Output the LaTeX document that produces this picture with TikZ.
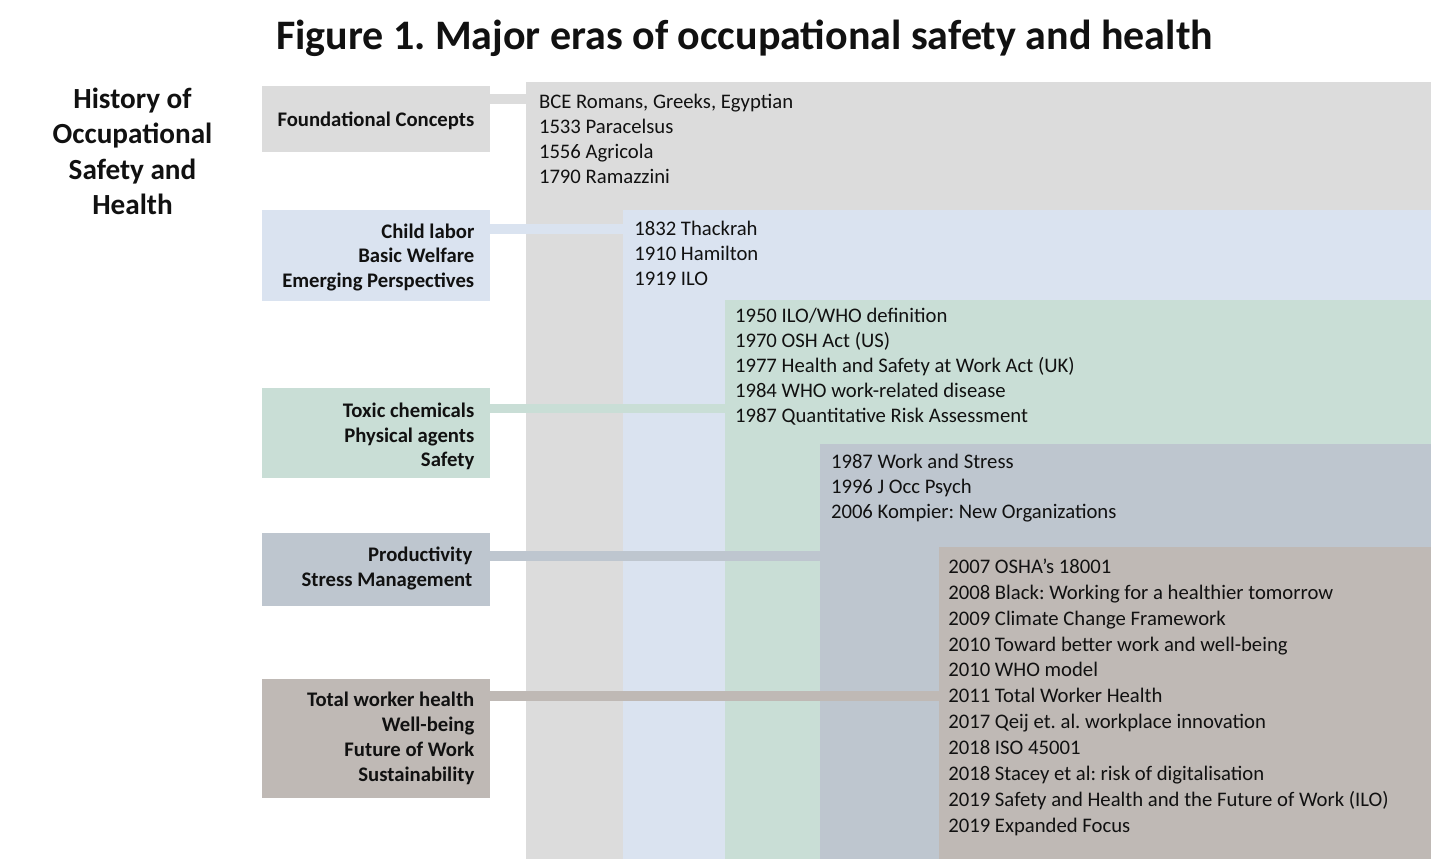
\documentclass[tikz,border=0pt]{standalone}
\usepackage{fontspec}
\setmainfont{Carlito}
\frenchspacing
\definecolor{cA}{HTML}{DCDCDC}
\definecolor{cB}{HTML}{DAE3F0}
\definecolor{cC}{HTML}{C9DED6}
\definecolor{cD}{HTML}{BEC6CF}
\definecolor{cE}{HTML}{BFB9B5}
\definecolor{ink}{HTML}{111111}
\tikzset{
  panel/.style={anchor=north west, inner sep=0pt, outer sep=0pt, draw=none},
  lbox/.style={anchor=north west, inner sep=0pt, outer sep=0pt, draw=none, minimum width=228.3pt},
  item/.style={anchor=base west, inner sep=0pt, outer sep=0pt, text=ink, font=\fontsize{20.7}{25}\selectfont},
  lab/.style={anchor=base east, inner sep=0pt, outer sep=0pt, text=ink, font=\fontsize{20.7}{25}\selectfont\bfseries},
  ttl/.style={anchor=base, inner sep=0pt, outer sep=0pt, text=ink, font=\fontsize{29.2}{35}\selectfont\bfseries},
  bar/.style={line width=9.5pt, line cap=butt}
}
\begin{document}
\begin{tikzpicture}[x=1pt, y=-1pt]
\useasboundingbox[fill=white] (0,0) rectangle (1431,859);

% title
\node[anchor=base, inner sep=0pt, text=ink, font=\fontsize{42}{48}\selectfont\bfseries] (title) at (744.5,50) {Figure 1. Major eras of occupational safety and health};

% side title
\foreach \t [count=\i] in {{History of},{Occupational},{Safety and},{Health}}
  \node[ttl] (side\i) at (132.5,{108.3+35.4*(\i-1)}) {\t};

% panels
\node[panel, fill=cA, minimum width=905.3pt, minimum height=776.7pt] (P1) at (525.7,82.3) {};
\node[panel, fill=cB, minimum width=808.3pt, minimum height=649pt] (P2) at (622.7,210) {};
\node[panel, fill=cC, minimum width=706pt, minimum height=559pt] (P3) at (725,300) {};
\node[panel, fill=cD, minimum width=611pt, minimum height=415pt] (P4) at (820,444) {};
\node[panel, fill=cE, minimum width=492pt, minimum height=311.7pt] (P5) at (939,547.3) {};

% left boxes
\node[lbox, fill=cA, minimum height=65.7pt] (B1) at (261.7,86) {};
\node[lbox, fill=cB, minimum height=90.7pt] (B2) at (261.7,210) {};
\node[lbox, fill=cC, minimum height=90pt] (B3) at (261.7,388.3) {};
\node[lbox, fill=cD, minimum height=73.3pt] (B4) at (261.7,532.7) {};
\node[lbox, fill=cE, minimum height=119pt] (B5) at (261.7,679.3) {};

% connector heights
\coordinate (y1) at (0,99);
\coordinate (y2) at (0,229);
\coordinate (y3) at (0,408.3);
\coordinate (y4) at (0,555.8);
\coordinate (y5) at (0,696.2);
\draw[bar, cA] (B1.east |- y1) -- (P1.west |- y1);
\draw[bar, cB] (B2.east |- y2) -- (P2.west |- y2);
\draw[bar, cC] (B3.east |- y3) -- (P3.west |- y3);
\draw[bar, cD] (B4.east |- y4) -- (P4.west |- y4);
\draw[bar, cE] (B5.east |- y5) -- (P5.west |- y5);

% left labels
\node[lab] (L1a) at (474.3,126.7) {Foundational Concepts};
\foreach \t [count=\i] in {{Child labor},{Basic Welfare},{Emerging Perspectives}}
  \node[lab] (L2\i) at (474.3,{238.3+24.6*(\i-1)}) {\t};
\foreach \t [count=\i] in {{Toxic chemicals},{Physical agents},{Safety}}
  \node[lab] (L3\i) at (474.3,{417.3+24.7*(\i-1)}) {\t};
\foreach \t [count=\i] in {{Productivity},{Stress Management}}
  \node[lab] (L4\i) at (472.3,{561.7+25*(\i-1)}) {\t};
\foreach \t [count=\i] in {{Total worker health},{Well-being},{Future of Work},{Sustainability}}
  \node[lab] (L5\i) at (474.3,{706.7+25*(\i-1)}) {\t};

% panel items
\foreach \t [count=\i] in {{BCE Romans, Greeks, Egyptian},{1533 Paracelsus},{1556 Agricola},{1790 Ramazzini}}
  \node[item] (I1\i) at (539,{108.3+25.2*(\i-1)}) {\t};
\foreach \t [count=\i] in {{1832 Thackrah},{1910 Hamilton},{1919 ILO}}
  \node[item] (I2\i) at (634.3,{235+25*(\i-1)}) {\t};
\foreach \t [count=\i] in {{1950 ILO/WHO definition},{1970 OSH Act (US)},{1977 Health and Safety at Work Act (UK)},{1984 WHO work-related disease},{1987 Quantitative Risk Assessment}}
  \node[item] (I3\i) at (735,{322.7+25*(\i-1)}) {\t};
\foreach \t [count=\i] in {{1987 Work and Stress},{1996 J Occ Psych},{2006 Kompier: New Organizations}}
  \node[item] (I4\i) at (831,{468.3+25*(\i-1)}) {\t};
\foreach \t [count=\i] in {{2007 OSHA’s 18001},{2008 Black: Working for a healthier tomorrow},{2009 Climate Change Framework},{2010 Toward better work and well-being},{2010 WHO model},{2011 Total Worker Health},{2017 Qeij et. al. workplace innovation},{2018 ISO 45001},{2018 Stacey et al: risk of digitalisation},{2019 Safety and Health and the Future of Work (ILO)},{2019 Expanded Focus}}
  \node[item] (I5\i) at (948.3,{573.3+25.9*(\i-1)}) {\t};
\end{tikzpicture}
\end{document}
